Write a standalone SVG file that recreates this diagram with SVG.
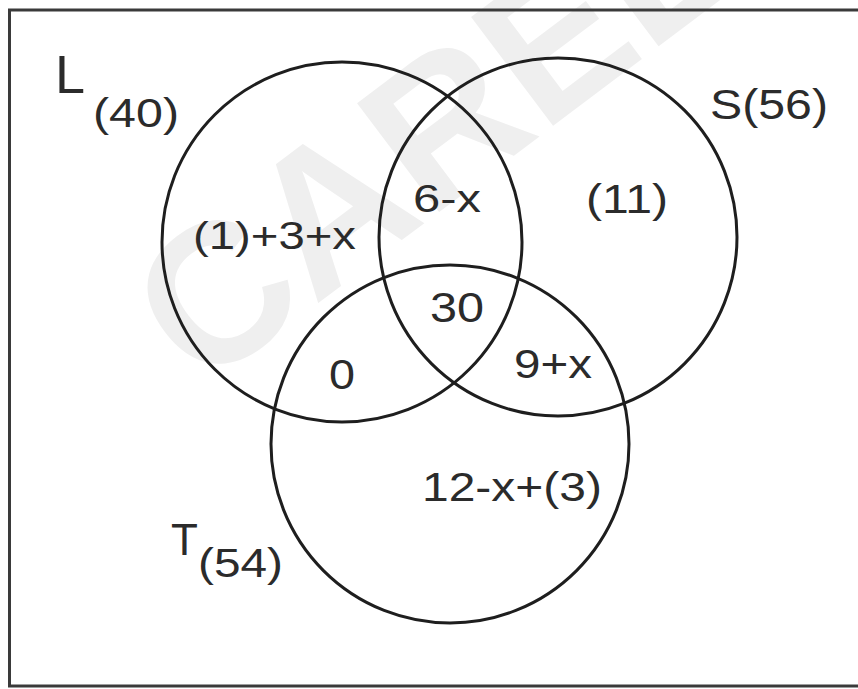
<svg xmlns="http://www.w3.org/2000/svg" width="858" height="689" viewBox="0 0 858 689">
<style>
.set{fill:none;stroke:#1e1e1e;stroke-width:3}
.lbl{font-family:"Liberation Sans",Arial,sans-serif;fill:#2b2b2b}
.wm{font-family:"Liberation Sans",Arial,sans-serif;font-weight:bold;fill:#efefef}
</style>
<rect width="858" height="689" fill="#ffffff"/>
<text class="wm" font-size="198" transform="translate(200,392) rotate(-37)">CAREE</text>
<rect x="9.5" y="10" width="860" height="676" fill="none" stroke="#3a3a3a" stroke-width="3"/>
<g id="connectors"></g>
<g id="setL">
<circle class="set" cx="342" cy="242" r="180"/>
<text class="lbl" x="55" y="93" font-size="54">L</text>
<text class="lbl" x="93" y="127" font-size="41" textLength="86" lengthAdjust="spacingAndGlyphs">(40)</text>
</g>
<g id="setS">
<circle class="set" cx="558" cy="237" r="179"/>
<text class="lbl" x="710" y="119" font-size="42" textLength="118" lengthAdjust="spacingAndGlyphs">S(56)</text>
</g>
<g id="setT">
<circle class="set" cx="450" cy="444" r="179"/>
<text class="lbl" x="171" y="555" font-size="44">T</text>
<text class="lbl" x="198" y="577" font-size="41" textLength="85" lengthAdjust="spacingAndGlyphs">(54)</text>
</g>
<g id="regionL">
<text class="lbl" x="193" y="249" font-size="39" textLength="163" lengthAdjust="spacingAndGlyphs">(1)+3+x</text>
</g>
<g id="regionLS">
<text class="lbl" x="413" y="212" font-size="39" textLength="68" lengthAdjust="spacingAndGlyphs">6-x</text>
</g>
<g id="regionS">
<text class="lbl" x="586" y="213" font-size="40" textLength="82" lengthAdjust="spacingAndGlyphs">(11)</text>
</g>
<g id="regionLST">
<text class="lbl" x="430" y="322" font-size="42" textLength="54" lengthAdjust="spacingAndGlyphs">30</text>
</g>
<g id="regionST">
<text class="lbl" x="514" y="378" font-size="40" textLength="78" lengthAdjust="spacingAndGlyphs">9+x</text>
</g>
<g id="regionLT">
<text class="lbl" x="329" y="389" font-size="43" textLength="26" lengthAdjust="spacingAndGlyphs">0</text>
</g>
<g id="regionT">
<text class="lbl" x="422" y="501" font-size="40" textLength="180" lengthAdjust="spacingAndGlyphs">12-x+(3)</text>
</g>
</svg>
